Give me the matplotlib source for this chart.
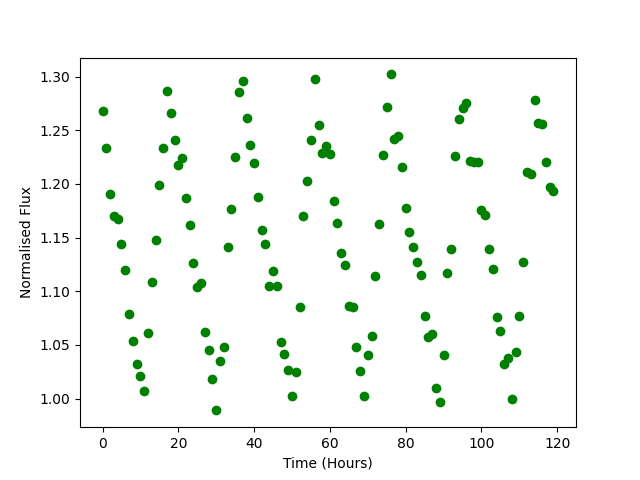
import numpy as np
import matplotlib
matplotlib.use("Agg")
import matplotlib.pyplot as plt

# time in hours, one reading per hour
hours = list(range(120))

# normalised flux
flux = [
    1.268, 1.233, 1.191, 1.170, 1.167, 1.144, 1.120, 1.079, 1.054, 1.032,
    1.021, 1.007, 1.061, 1.109, 1.148, 1.199, 1.233, 1.287, 1.266, 1.241,
    1.218, 1.224, 1.187, 1.162, 1.126, 1.104, 1.108, 1.062, 1.045, 1.018,
    0.989, 1.035, 1.048, 1.141, 1.177, 1.225, 1.286, 1.296, 1.261, 1.236,
    1.219, 1.188, 1.157, 1.144, 1.105, 1.119, 1.105, 1.053, 1.042, 1.027,
    1.002, 1.025, 1.085, 1.170, 1.203, 1.241, 1.298, 1.255, 1.229, 1.235,
    1.228, 1.184, 1.164, 1.136, 1.124, 1.086, 1.085, 1.048, 1.026, 1.002,
    1.041, 1.058, 1.114, 1.163, 1.227, 1.272, 1.302, 1.242, 1.245, 1.216,
    1.178, 1.155, 1.141, 1.127, 1.115, 1.077, 1.057, 1.060, 1.010, 0.997,
    1.041, 1.117, 1.139, 1.226, 1.260, 1.271, 1.275, 1.221, 1.220, 1.220,
    1.176, 1.171, 1.139, 1.121, 1.076, 1.063, 1.032, 1.038, 1.000, 1.043,
    1.077, 1.127, 1.211, 1.209, 1.278, 1.257, 1.256, 1.220, 1.197, 1.193,
]

fig, ax = plt.subplots(figsize=(6.4, 4.8), dpi=100)
ax.plot(hours, flux, 'go')
ax.set_xlabel('Time (Hours)')
ax.set_ylabel('Normalised Flux')

plt.savefig('out.png', dpi=100)
